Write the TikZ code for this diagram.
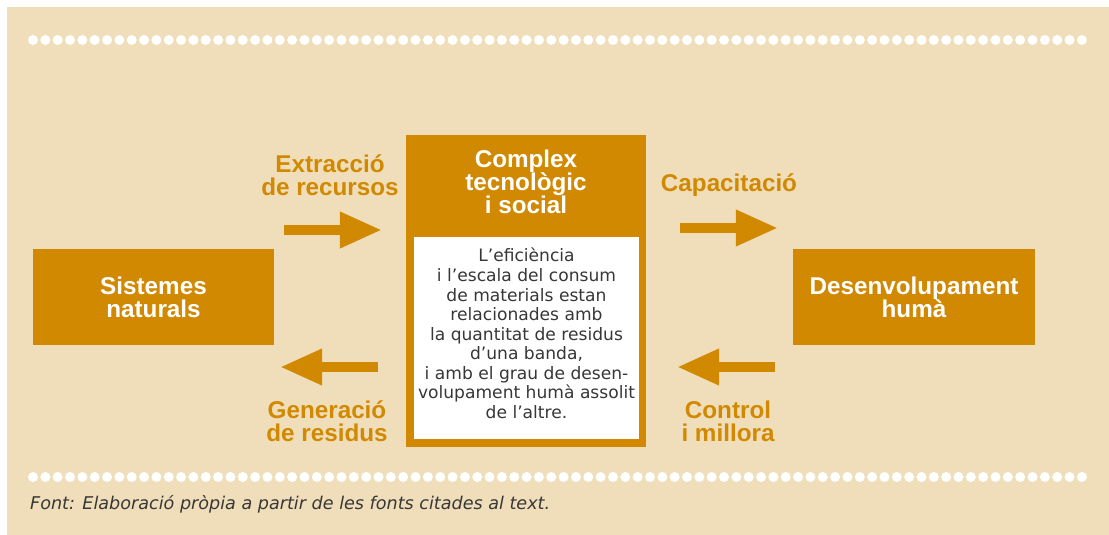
\documentclass[tikz,border=0pt]{standalone}
\usepackage{fontspec}
\setmainfont{Liberation Sans}
\newfontfamily\notefont{DejaVu Sans}
\usetikzlibrary{arrows.meta}
\definecolor{ochre}{RGB}{208,137,0}
\definecolor{sand}{RGB}{240,222,186}
\definecolor{ink}{RGB}{55,55,55}

\begin{document}
\begin{tikzpicture}[x=0.03cm,y=-0.03cm,
    box/.style={fill=ochre,inner sep=0pt,text=white,align=center,
      font=\fontsize{20.7}{19.8}\selectfont\bfseries},
    flow/.style={inner sep=0pt,text=ochre,align=center,
      font=\fontsize{20.7}{19.8}\selectfont\bfseries},
    fat/.style={ochre,line width=8.5pt,-{Triangle[length=36pt,width=29pt]}}]
	\useasboundingbox (0,0) rectangle (1109,535);
	\fill[sand] (7,7) rectangle (1109,535);
	% rows of dots
	\foreach \y in {40,477}
		\foreach \i in {0,...,85}
			\fill[white] (33+\i*12.34,\y) circle (0.15cm);
	\node[box,minimum width=7.23cm,minimum height=2.88cm] (nat) at (153.5,297) {Sistemes\\naturals};
	\node[box,minimum width=7.2cm,minimum height=9.36cm] (tec) at (526,291) {};
	\node[box] (tectit) at (526,182) {Complex\\tecnològic\\i social};
	\node[fill=white,inner sep=0pt,minimum width=6.75cm,minimum height=6.06cm] (nota) at (526.5,338) {};
	\node[text=ink,align=center,inner sep=0pt,font=\notefont\fontsize{14.6}{16.7}\selectfont] (notatxt) at (526.5,333.5)
		{L’eficiència\\i l’escala del consum\\de materials estan\\relacionades amb\\la quantitat de residus\\d’una banda,\\i amb el grau de desen-\\volupament humà assolit\\de l’altre.};
	\node[box,minimum width=7.26cm,minimum height=2.88cm] (hum) at (914,297) {Desenvolupament\\humà};
	\node[flow] (ext) at (330,175) {Extracció\\de recursos};
	\node[flow,anchor=base] (cap) at (729,191) {Capacitació};
	\node[flow] (gen) at (327,421) {Generació\\de residus};
	\node[flow] (ctl) at (728,421) {Control\\i millora};
	\coordinate (a1) at (284,230);
	\coordinate (b1) at (382,230);
	\coordinate (a2) at (680,228);
	\coordinate (b2) at (778,228);
	\coordinate (a3) at (378,367);
	\coordinate (b3) at (280,367);
	\coordinate (a4) at (775,367);
	\coordinate (b4) at (677,367);
	\draw[fat] (a1) -- (b1);
	\draw[fat] (a2) -- (b2);
	\draw[fat] (a3) -- (b3);
	\draw[fat] (a4) -- (b4);
	\node[anchor=base west,inner sep=0pt,text=ink,font=\notefont\itshape\fontsize{15}{18}\selectfont] (font) at (30,509)
		{Font: Elaboració pròpia a partir de les fonts citades al text.};
\end{tikzpicture}
\end{document}
